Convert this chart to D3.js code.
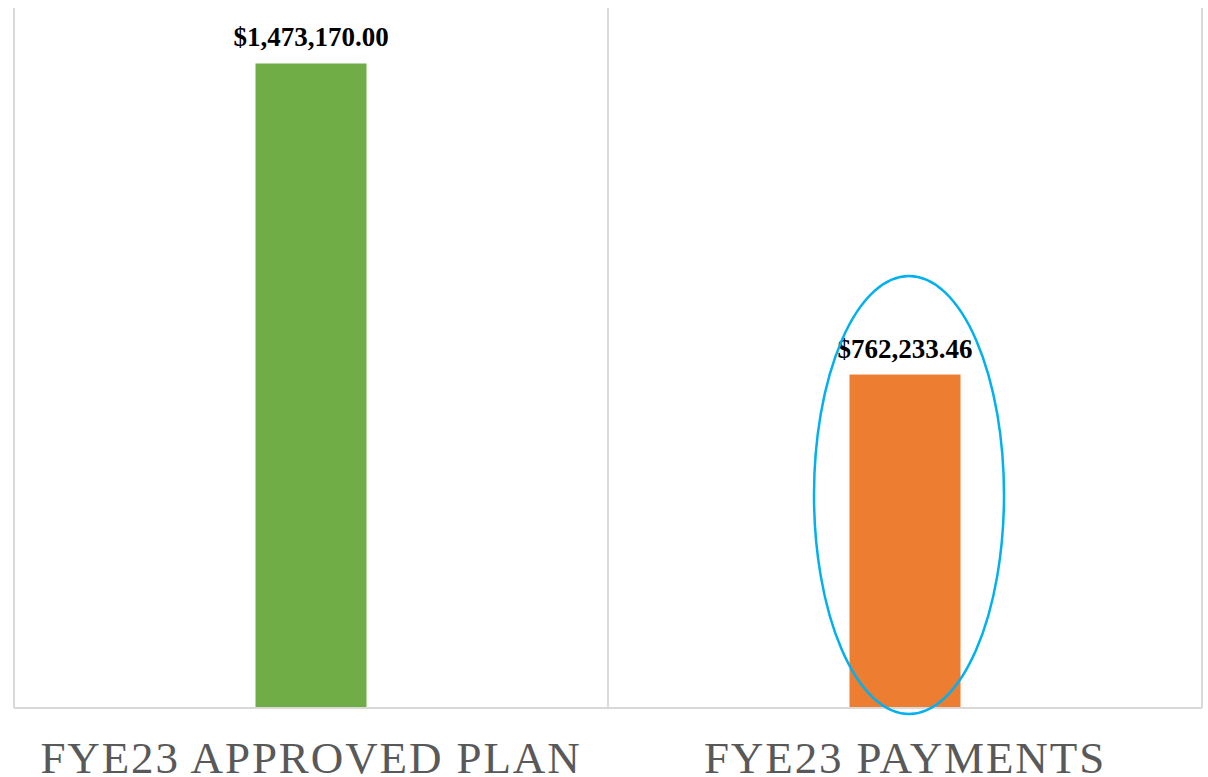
<html>
  <head>
    <script src="https://d3js.org/d3.v7.min.js"></script>
  </head>
  <style>
  body { margin: 0; background: #fff; }
  </style>
  <body>
    <svg id="chart" width="1208" height="777"></svg>

    <script>
    // data
    const categories = ["FYE23 APPROVED PLAN", "FYE23 PAYMENTS"];
    const amounts = [1473170.00, 762233.46];
    const barColors = ["#70ad47", "#ed7d31"];
    const yMax = 1600000;

    const svg = d3.select("#chart");
    const plotLeft = 14, plotRight = 1202, plotTop = 8, plotBottom = 708;

    let x = d3.scaleBand().domain(categories).range([plotLeft, plotRight]).paddingInner(0).paddingOuter(0);
    let y = d3.scaleLinear().domain([0, yMax]).range([plotBottom, plotTop]);

    // vertical grid lines at band edges
    const edges = categories.map(c => x(c)).concat([plotRight]);
    svg.selectAll("line.grid").data(edges).enter().append("line")
      .attr("class", "grid")
      .attr("x1", d => d).attr("x2", d => d)
      .attr("y1", plotTop).attr("y2", plotBottom)
      .attr("stroke", "#d9d9d9").attr("stroke-width", 2);

    // bars
    const barW = 111;
    const rows = categories.map((c, i) => ({cat: c, val: amounts[i], color: barColors[i]}));
    svg.selectAll("rect.bar").data(rows).enter().append("rect")
      .attr("class", "bar")
      .attr("x", d => x(d.cat) + x.bandwidth() / 2 - barW / 2)
      .attr("width", barW)
      .attr("y", d => y(d.val))
      .attr("height", d => y(0) - y(d.val))
      .attr("fill", d => d.color);

    // baseline
    svg.append("line")
      .attr("x1", plotLeft).attr("x2", plotRight)
      .attr("y1", plotBottom).attr("y2", plotBottom)
      .attr("stroke", "#d9d9d9").attr("stroke-width", 2);

    // value labels
    const fmt = d3.format("$,.2f");
    svg.selectAll("text.val").data(rows).enter().append("text")
      .attr("class", "val")
      .attr("x", d => x(d.cat) + x.bandwidth() / 2)
      .attr("y", d => y(d.val) - 17)
      .attr("text-anchor", "middle")
      .attr("font-family", "Liberation Serif, Times New Roman, serif")
      .attr("font-weight", "bold")
      .attr("font-size", 27)
      .attr("fill", "#000")
      .text(d => fmt(d.val));

    // category labels
    svg.selectAll("text.cat").data(categories).enter().append("text")
      .attr("class", "cat")
      .attr("x", d => x(d) + x.bandwidth() / 2)
      .attr("y", 773)
      .attr("text-anchor", "middle")
      .attr("font-family", "Liberation Serif, Times New Roman, serif")
      .attr("font-size", 45)
      .attr("letter-spacing", 1.9)
      .attr("fill", "#595959")
      .text(d => d);

    // highlight ellipse around payments bar
    const pc = x(categories[1]) + x.bandwidth() / 2;
    svg.append("ellipse")
      .attr("cx", pc + 4)
      .attr("cy", 495)
      .attr("rx", 95)
      .attr("ry", 219)
      .attr("fill", "none")
      .attr("stroke", "#00b0f0")
      .attr("stroke-width", 2.5);
    </script>
  </body>
</html>
